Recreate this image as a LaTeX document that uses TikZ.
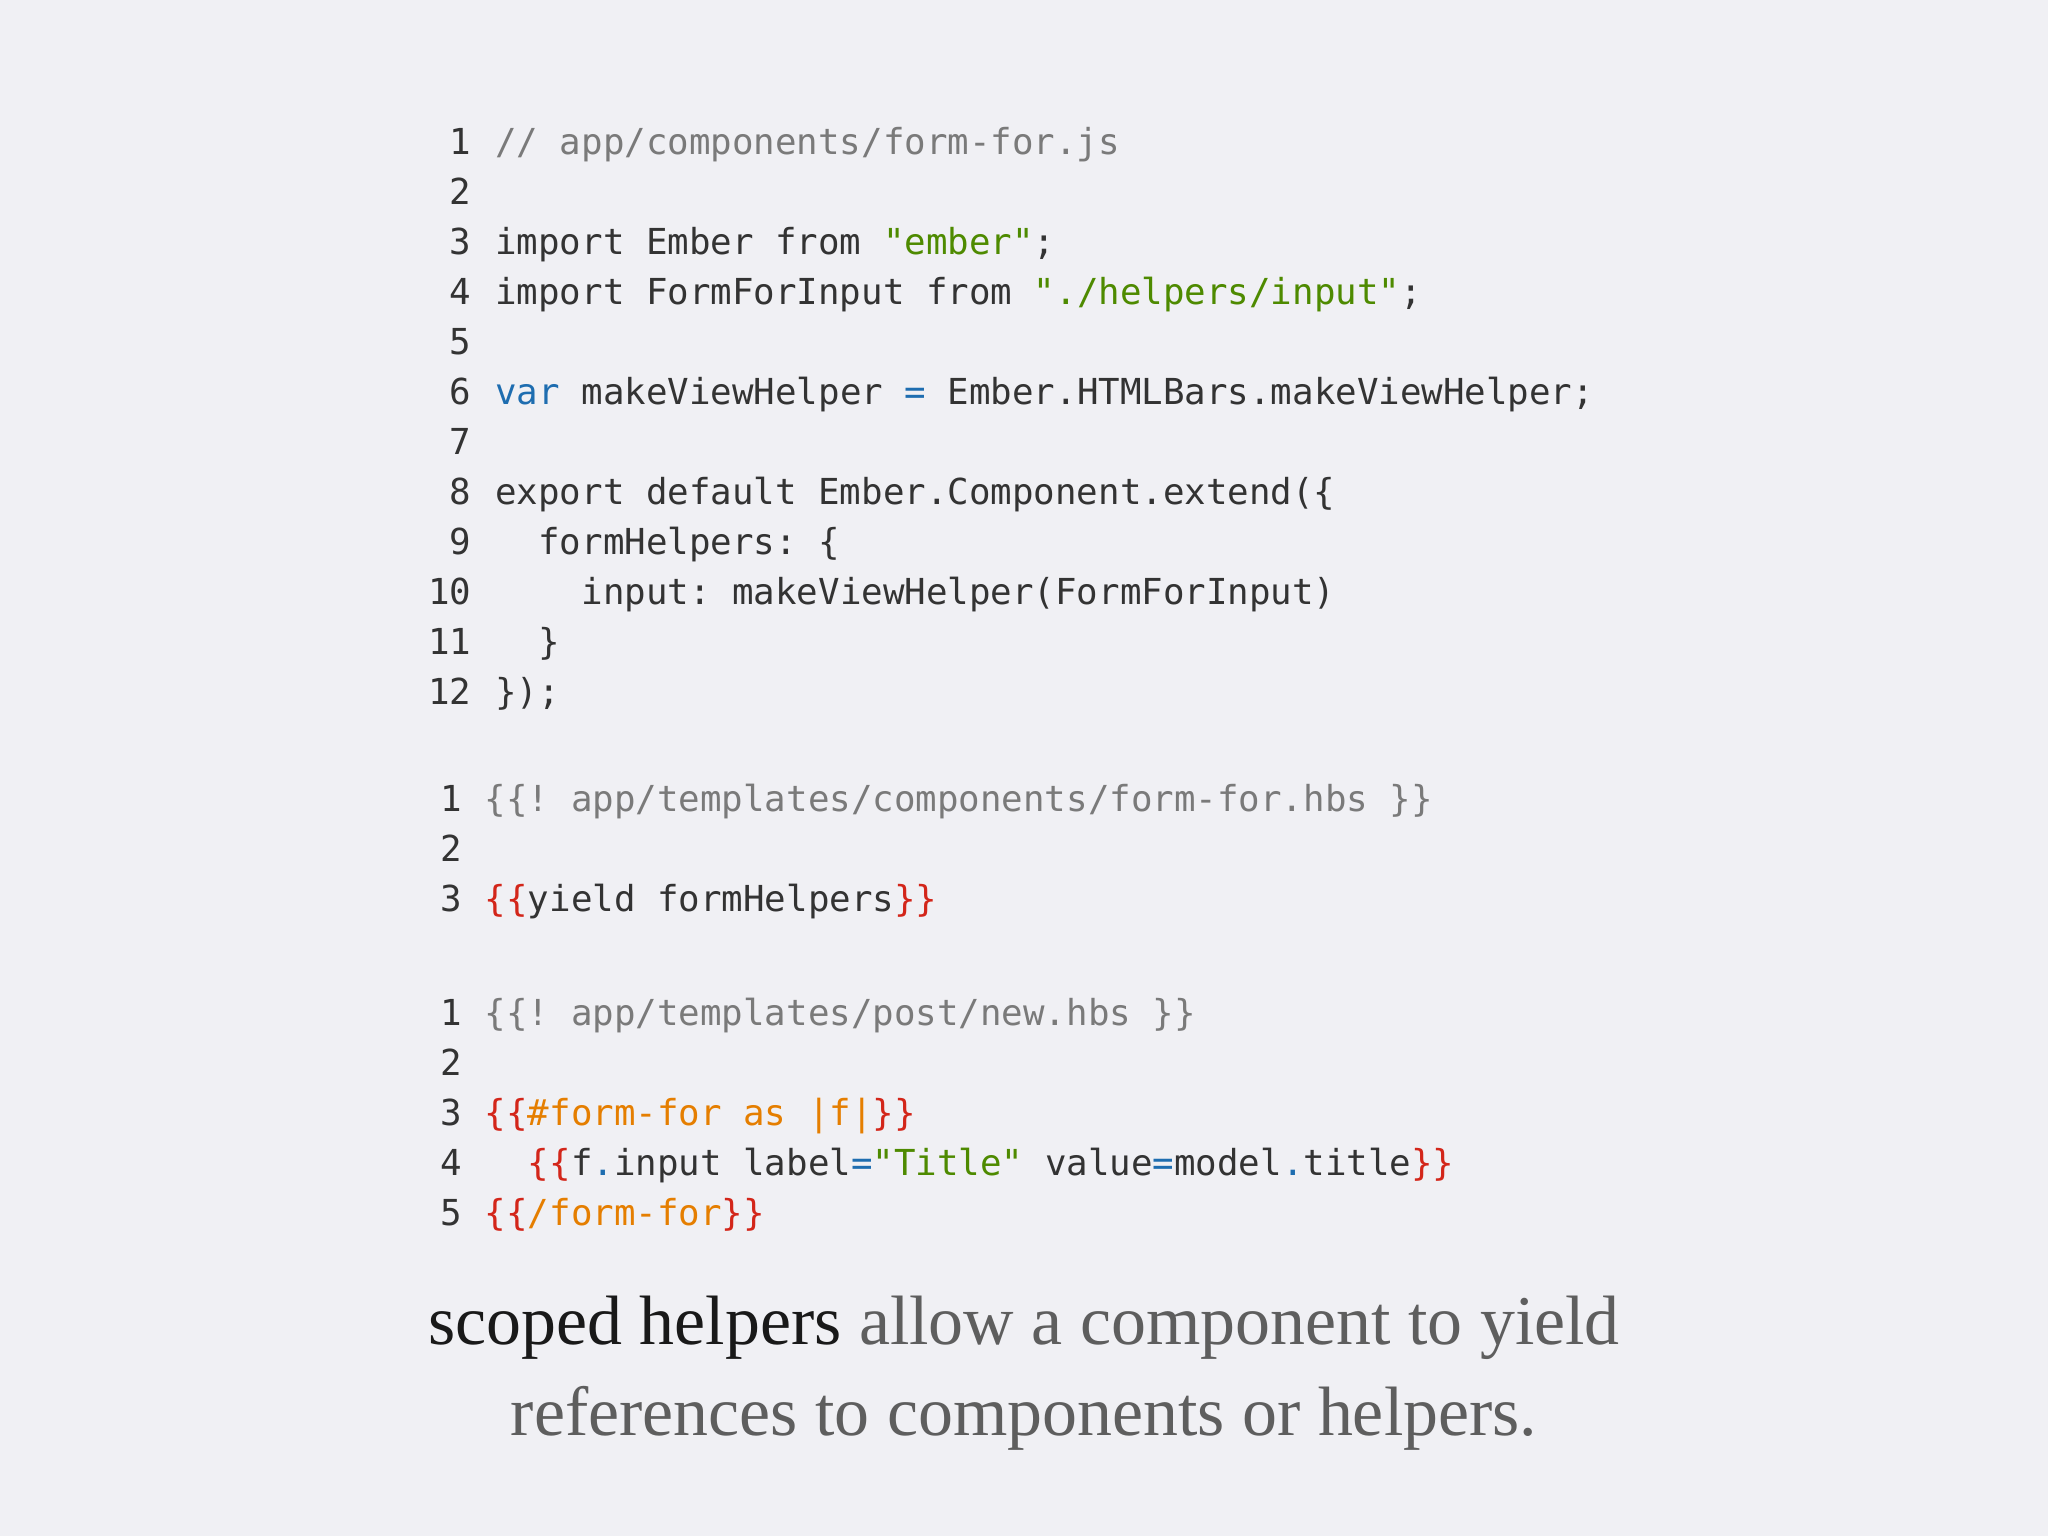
\documentclass[tikz,border=0pt]{standalone}
\usepackage{fontspec}
\setmonofont{DejaVu Sans Mono}
\setmainfont{Liberation Serif}
\definecolor{bg}{HTML}{F0F0F4}
\definecolor{tx}{HTML}{333333}
\definecolor{cm}{HTML}{7A7A7A}
\definecolor{st}{HTML}{4E8A00}
\definecolor{kw}{HTML}{1E6DB0}
\definecolor{rd}{HTML}{D3261A}
\definecolor{og}{HTML}{E57E00}
\definecolor{cap}{HTML}{5E5E5E}
\newcommand{\C}[1]{\textcolor{cm}{#1}}
\newcommand{\Sg}[1]{\textcolor{st}{#1}}
\newcommand{\K}[1]{\textcolor{kw}{#1}}
\newcommand{\R}[1]{\textcolor{rd}{#1}}
\newcommand{\Og}[1]{\textcolor{og}{#1}}
\tikzset{code/.style={anchor=base west,inner sep=0pt,text=tx,font=\fontsize{27.4}{30}\ttfamily},
num/.style={anchor=base east,inner sep=0pt,text=tx,font=\fontsize{27.4}{30}\ttfamily},
capt/.style={anchor=base,inner sep=0pt,text=cap,font=\fontsize{53.5}{60}\selectfont}}
\begin{document}
\begin{tikzpicture}[x=1pt,y=-1pt]
\fill[bg] (0,0) rectangle (1568,1176);
\useasboundingbox (0,0) rectangle (1568,1176);
% block 1
\foreach \n/\t [count=\i from 0] in {1/{\C{// app/components/form-for.js}},2/{},3/{import Ember from \Sg{"ember"};},4/{import FormForInput from \Sg{"./helpers/input"};},5/{},6/{\K{var} makeViewHelper \K{=} Ember.HTMLBars.makeViewHelper;},7/{},8/{export default Ember.Component.extend(\{},9/{~~formHelpers: \{},10/{~~~~input: makeViewHelper(FormForInput)},11/{~~\}},12/{\});}}{
  \node[num] (an\n) at (361,118+38.3*\i) {\n};
  \node[code] (ac\n) at (379,118+38.3*\i) {\t};
}
% block 2
\foreach \n/\t [count=\i from 0] in {1/{\C{\{\{! app/templates/components/form-for.hbs \}\}}},2/{},3/{\R{\{\{}yield formHelpers\R{\}\}}}}{
  \node[num] (bn\n) at (354,621+38.4*\i) {\n};
  \node[code] (bc\n) at (371,621+38.4*\i) {\t};
}
% block 3
\foreach \n/\t [count=\i from 0] in {1/{\C{\{\{! app/templates/post/new.hbs \}\}}},2/{},3/{\R{\{\{}\Og{\#form-for as |f|}\R{\}\}}},4/{~~\R{\{\{}f\K{.}input label\K{=}\Sg{"Title"} value\K{=}model\K{.}title\R{\}\}}},5/{\R{\{\{}\Og{/form-for}\R{\}\}}}}{
  \node[num] (cn\n) at (354,785+38.3*\i) {\n};
  \node[code] (cc\n) at (371,785+38.3*\i) {\t};
}
\node[capt] (cap1) at (784,1029) {\textcolor{black!90}{scoped helpers} allow a component to yield};
\node[capt] (cap2) at (784,1099) {references to components or helpers.};
\end{tikzpicture}
\end{document}
